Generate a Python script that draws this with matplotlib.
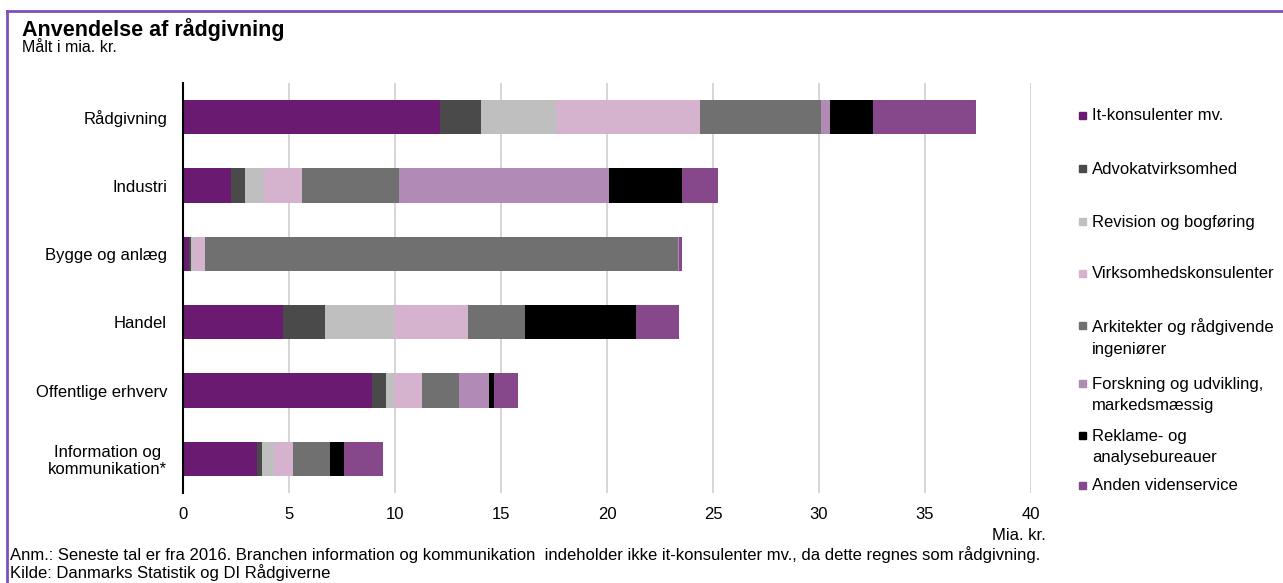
import numpy as np
import matplotlib
matplotlib.use('Agg')
import matplotlib.pyplot as plt
from matplotlib.patches import Rectangle
from matplotlib.lines import Line2D

plt.rcParams['font.family'] = ['Liberation Sans', 'DejaVu Sans']

# categories, top to bottom
categories = ['Rådgivning', 'Industri', 'Bygge og anlæg', 'Handel',
              'Offentlige erhverv', 'Information og\nkommunikation*']

# values in mia. kr.
it_konsulenter = [12.12, 2.26, 0.30, 4.70, 8.90, 3.49]
advokat = [1.96, 0.68, 0.10, 2.00, 0.68, 0.22]
revision = [3.52, 0.88, 0.05, 3.24, 0.35, 0.60]
virksomhed = [6.79, 1.81, 0.60, 3.50, 1.36, 0.88]
arkitekter = [5.69, 4.54, 22.31, 2.69, 1.74, 1.76]
forskning = [0.42, 9.91, 0.03, 0.0, 1.39, 0.0]
reklame = [2.06, 3.44, 0.02, 5.24, 0.23, 0.63]
anden = [4.83, 1.70, 0.12, 2.01, 1.13, 1.85]

series_names = ['It-konsulenter mv.', 'Advokatvirksomhed', 'Revision og bogføring',
                'Virksomhedskonsulenter', 'Arkitekter og rådgivende\ningeniører',
                'Forskning og udvikling,\nmarkedsmæssig', 'Reklame- og\nanalysebureauer',
                'Anden videnservice']
series = [it_konsulenter, advokat, revision, virksomhed, arkitekter, forskning, reklame, anden]
colors = ['#6a1a70', '#4a4a4a', '#bfbfbf', '#d5b3ce', '#707070', '#b28ab6', '#000000', '#86488b']

x_ticks = [0, 5, 10, 15, 20, 25, 30, 35, 40]

fs = 12  # body text size

fig = plt.figure(figsize=(12.83, 5.83), dpi=100)
ax = fig.add_axes([183 / 1283, 1 - 493 / 583, (1031 - 183) / 1283, 410 / 583])

y = np.arange(len(categories))
left = np.zeros(len(categories))
for vals, col, name in zip(series, colors, series_names):
    ax.barh(y, vals, left=left, height=0.5, color=col, linewidth=0, label=name, zorder=3)
    left += np.array(vals)

ax.set_xlim(0, 40)
ax.set_ylim(len(categories) - 0.5, -0.5)
ax.set_xticks(x_ticks)
ax.set_xticklabels([str(t) for t in x_ticks])
ax.set_yticks(y)
ax.set_yticklabels(categories)
for lbl in ax.get_yticklabels():
    lbl.set_multialignment('center')
    lbl.set_linespacing(1.15)
ax.tick_params(axis='x', length=0, pad=10, labelsize=fs, colors='#000000')
ax.tick_params(axis='y', length=0, pad=11.5, labelsize=fs, colors='#000000')
ax.xaxis.grid(True, color='#d0d0d0', linewidth=1.2, zorder=0)
ax.set_axisbelow(True)
for s in ['top', 'right', 'bottom']:
    ax.spines[s].set_visible(False)
ax.spines['left'].set_color('#000000')
ax.spines['left'].set_linewidth(1.5)
ax.spines['left'].set_zorder(4)

# unit label under the x axis
fig.text(1046 / 1283, 1 - 535 / 583, 'Mia. kr.', ha='right', va='center', fontsize=fs)

# legend, drawn by hand so squares sit beside the first line
legend_y = [115, 168, 221, 273, 325, 383, 435, 485]
for ly, col, name in zip(legend_y, colors, series_names):
    fig.patches.append(Rectangle((1079 / 1283, 1 - (ly + 3.5) / 583), 7 / 1283, 7 / 583,
                                 transform=fig.transFigure, color=col))
    fig.text(1092 / 1283, 1 - (ly - 6.5) / 583, name, ha='left', va='top',
             fontsize=fs, linespacing=1.55)

# title block
fig.text(22 / 1283, 1 - 30 / 583, 'Anvendelse af rådgivning', ha='left', va='center',
         fontsize=15.5, fontweight='bold')
fig.text(22 / 1283, 1 - 48 / 583, 'Målt i mia. kr.', ha='left', va='center', fontsize=11.5)

# footnotes
fig.text(10 / 1283, 1 - 555 / 583,
         'Anm.: Seneste tal er fra 2016. Branchen information og kommunikation  indeholder ikke '
         'it-konsulenter mv., da dette regnes som rådgivning.',
         ha='left', va='center', fontsize=fs)
fig.text(10 / 1283, 1 - 573 / 583, 'Kilde: Danmarks Statistik og DI Rådgiverne',
         ha='left', va='center', fontsize=fs)

# frame: top and left border in purple
border = '#8050b8'
fig.add_artist(Line2D([7 / 1283, 1], [1 - 11 / 583, 1 - 11 / 583], transform=fig.transFigure,
                      color=border, linewidth=2))
fig.add_artist(Line2D([7 / 1283, 7 / 1283], [0, 1 - 11 / 583], transform=fig.transFigure,
                      color=border, linewidth=2))

fig.savefig('out.png', dpi=100)
